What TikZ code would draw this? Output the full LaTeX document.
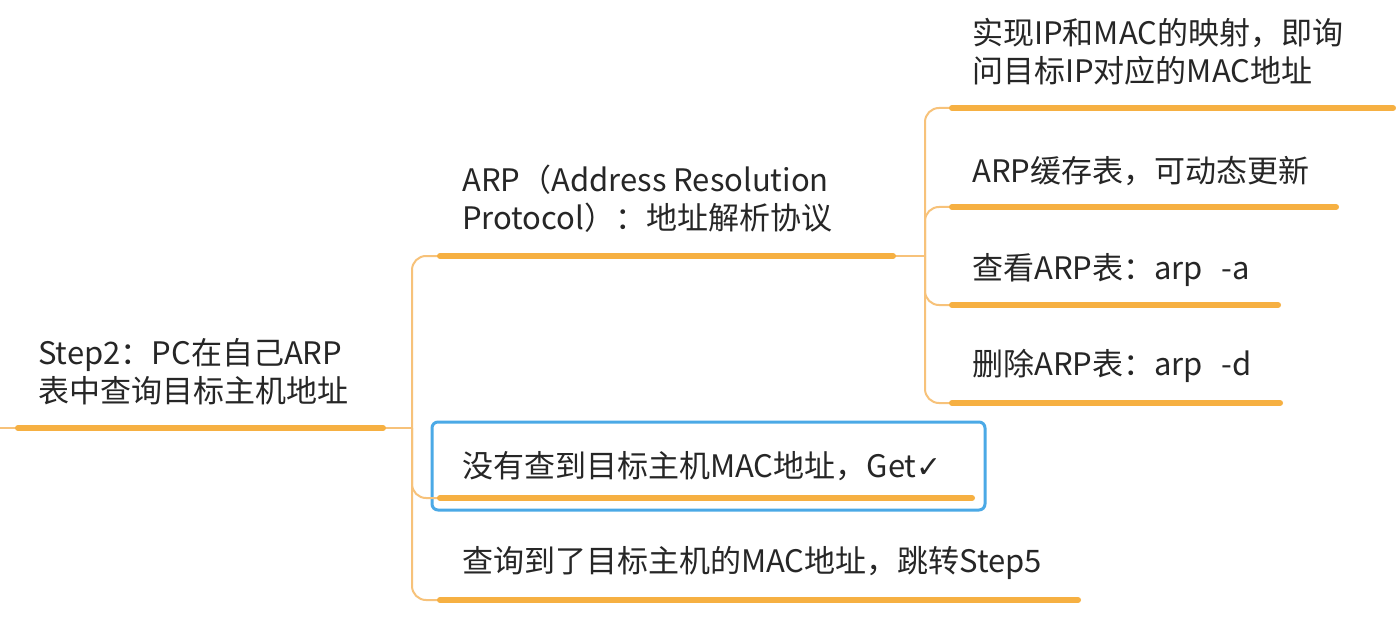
\documentclass[tikz,border=0pt]{standalone}
\usepackage{fontspec}
\setmainfont{Noto Sans CJK SC}
\newfontfamily\symfont{DejaVu Sans}
\definecolor{ulc}{HTML}{F6B042}
\definecolor{cnc}{HTML}{F7C27A}
\definecolor{selc}{HTML}{4BA9E6}
\definecolor{txc}{HTML}{262626}
\begin{document}
\begin{tikzpicture}[x=1pt,y=-1pt,
  topic/.style={anchor=west,inner sep=0pt,align=left,text=txc,font=\fontsize{31}{38}\selectfont},
  uline/.style={draw=ulc,line width=6pt,line cap=round},
  conn/.style={draw=cnc,line width=2pt,rounded corners=14pt},
  selbox/.style={draw=selc,line width=3pt,rounded corners=6pt}]
\useasboundingbox (0,0) rectangle (1396,620);
\fill[white] (0,0) rectangle (1396,620);
% root
\node[topic] (root) at (38,372) {Step2：PC在自己ARP\\表中查询目标主机地址};
\coordinate (rootL) at (18,428);
\coordinate (rootR) at (383,428);
\coordinate (edge) at (0,428);
\coordinate (j1) at (412,428);
% children
\node[topic] (c1) at (462,199) {ARP（Address Resolution\\Protocol）：地址解析协议};
\coordinate (c1L) at (440,256); \coordinate (c1R) at (893,256);
\coordinate (j2) at (925,256);
\node[topic] (c2) at (462,466) {没有查到目标主机MAC地址，Get{\symfont\fontsize{30}{36}\selectfont ✓}};
\coordinate (c2L) at (440,498); \coordinate (c2R) at (972,498);
\node[topic] (c3) at (462,563) {查询到了目标主机的MAC地址，跳转Step5};
\coordinate (c3L) at (440,600); \coordinate (c3R) at (1078,600);
% grandchildren
\node[topic] (g1) at (972,52) {实现IP和MAC的映射，即询\\问目标IP对应的MAC地址};
\coordinate (g1L) at (952,108); \coordinate (g1R) at (1393,108);
\node[topic] (g2) at (972,171) {ARP缓存表，可动态更新};
\coordinate (g2L) at (952,207); \coordinate (g2R) at (1336,207);
\node[topic] (g3) at (972,270) {查看ARP表：arp\hspace{0.6em}-a};
\coordinate (g3L) at (952,305); \coordinate (g3R) at (1278,305);
\node[topic] (g4) at (972,366) {删除ARP表：arp\hspace{0.6em}-d};
\coordinate (g4L) at (952,403); \coordinate (g4R) at (1280,403);
% selection box
\node[selbox,inner sep=0pt,minimum width=553pt,minimum height=88pt] (sel) at (708.5,466) {};
% connectors
\draw[conn] (edge) -- (rootL);
\draw[conn] (rootR) -- (j1);
\draw[conn] (j1) |- (c1L);
\draw[conn] (j1) |- (c2L);
\draw[conn] (j1) |- (c3L);
\draw[conn] (c1R) -- (j2);
\draw[conn] (j2) |- (g1L);
\draw[conn] (j2) |- (g2L);
\draw[conn] (j2) |- (g3L);
\draw[conn] (j2) |- (g4L);
% underlines
\draw[uline] (rootL) -- (rootR);
\draw[uline] (c1L) -- (c1R);
\draw[uline] (c2L) -- (c2R);
\draw[uline] (c3L) -- (c3R);
\draw[uline] (g1L) -- (g1R);
\draw[uline] (g2L) -- (g2R);
\draw[uline] (g3L) -- (g3R);
\draw[uline] (g4L) -- (g4R);
\end{tikzpicture}
\end{document}
